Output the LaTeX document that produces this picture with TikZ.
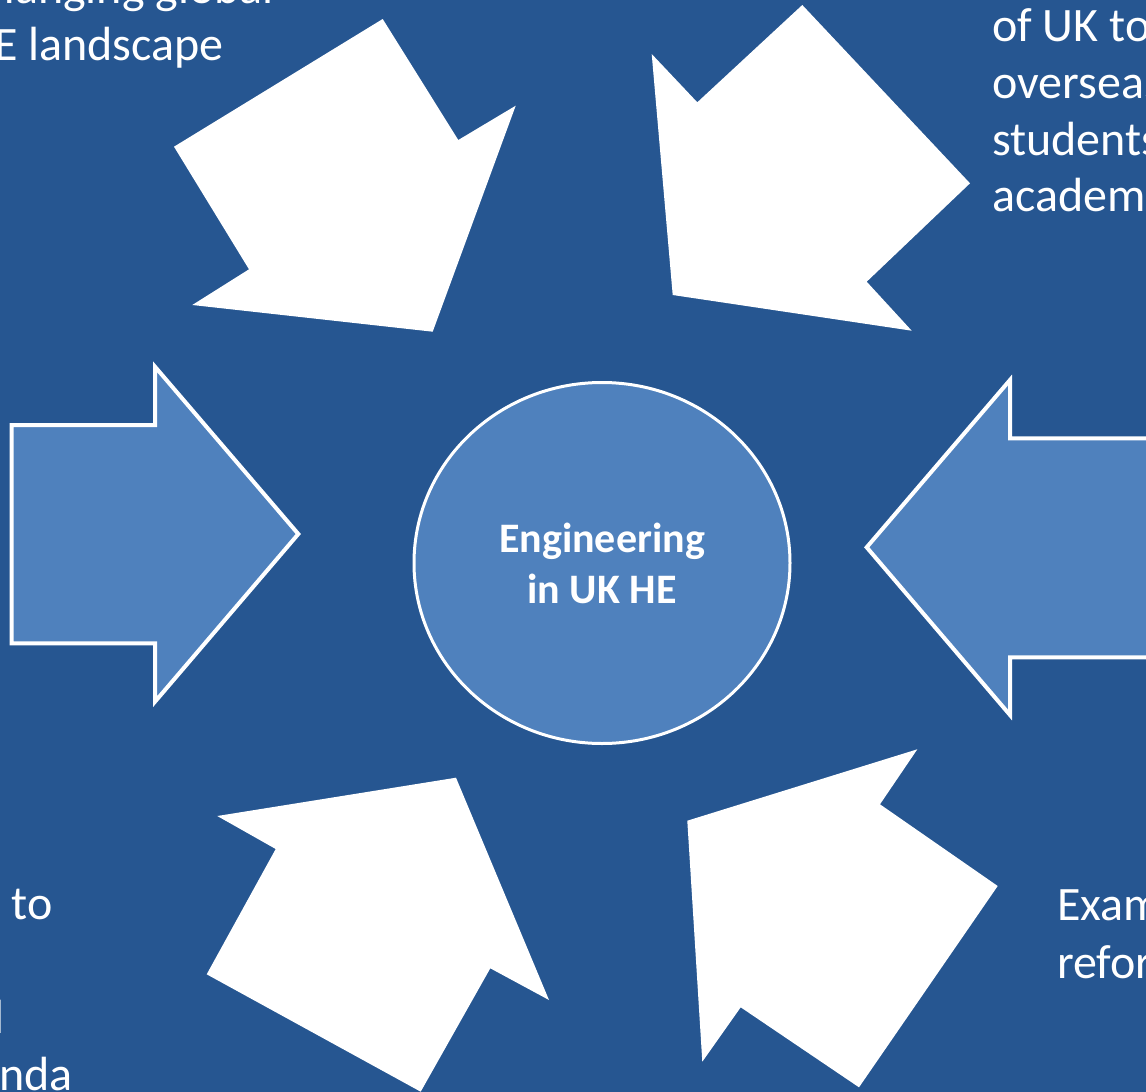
\documentclass[tikz,border=0pt]{standalone}
\usepackage{fontspec}
\setmainfont{Carlito}
\usetikzlibrary{shapes.geometric}
\definecolor{bg}{RGB}{38,86,145}
\definecolor{acc}{RGB}{79,129,189}
\begin{document}
\begin{tikzpicture}[x=1pt,y=-1pt,
  whitearrow/.style={fill=white},
  bluearrow/.style={fill=acc,draw=white,line width=4pt,line join=miter},
  lbl/.style={text=white,inner sep=0pt,font=\fontsize{48}{56.7}\selectfont},
]
\useasboundingbox (0,0) rectangle (1146,1092);
\clip (0,0) rectangle (1146,1092);
\fill[bg] (0,0) rectangle (1146,1092);

% white arrows
\fill[whitearrow] (174,146.7) -- (382.7,19) -- (458.3,140) -- (515.7,105.7) -- (432.7,331.7) -- (192.3,305) -- (249,269.3) -- cycle;
\fill[whitearrow] (651.7,54) -- (697.3,102.3) -- (802.3,5) -- (970,183.3) -- (866.7,281.7) -- (911.7,330.7) -- (672.7,295) -- cycle;
\fill[whitearrow] (217.3,816) -- (456,777.7) -- (549,1000) -- (490.3,968.3) -- (420.7,1091.7) -- (206.7,974.3) -- (275.7,849) -- cycle;
\fill[whitearrow] (687.3,820.7) -- (917.3,749.3) -- (880,804.3) -- (997.7,886) -- (859,1087.3) -- (740.7,1007.3) -- (702.3,1061.7) -- cycle;

% blue arrows
\draw[bluearrow] (11.7,425) -- (155,425) -- (155,366.7) -- (298.3,534) -- (155,701.7) -- (155,643.3) -- (11.7,643.3) -- cycle;
\draw[bluearrow] (866.7,547.3) -- (1010,380) -- (1010,438.3) -- (1170,438.3) -- (1170,657.3) -- (1010,657.3) -- (1010,715) -- cycle;

% hub
\node[ellipse, draw=white, line width=3pt, fill=acc, minimum width=376pt, minimum height=361pt, inner sep=0pt, text=white, font=\bfseries\fontsize{42}{51}\selectfont, align=center] (hub) at (602,563) {Engineering\\in UK HE};

% labels
\node[lbl, anchor=base east] (tla) at (274,3.3) {Changing global};
\node[lbl, anchor=base east] (tlb) at (224,60) {HE landscape};

\node[lbl, anchor=base west] (tra) at (992,41.7) {of UK to};
\node[lbl, anchor=base west] (trb) at (992,98.3) {overseas};
\node[lbl, anchor=base west] (trc) at (992,155) {students};
\node[lbl, anchor=base west] (trd) at (992,211.7) {academics};

\node[lbl, anchor=base east] (bla) at (53,919) {to};
\node[lbl, anchor=base east] (blb) at (5,1033) {l};
\node[lbl, anchor=base east] (blc) at (73,1090) {nda};

\node[lbl, anchor=base west] (bra) at (1057,920.7) {Examination};
\node[lbl, anchor=base west] (brb) at (1057,978.3) {reform};
\end{tikzpicture}
\end{document}
